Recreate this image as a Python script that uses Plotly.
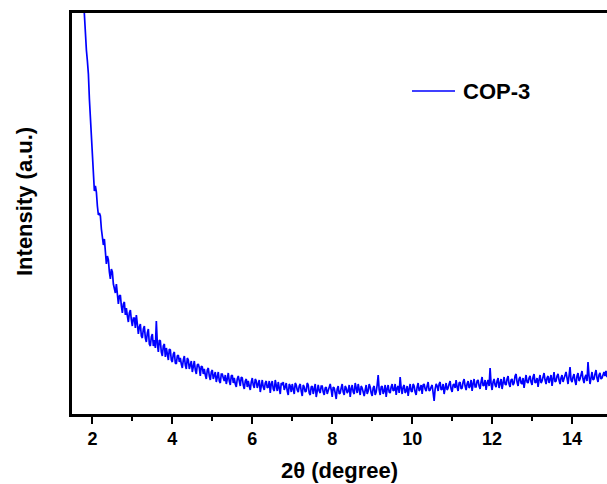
import plotly.graph_objects as go

# 2-theta scan: start angle and step (degree)
TWO_THETA_START = 1.75
TWO_THETA_STEP = 0.025

# intensity (arbitrary units)
INTENSITY = [
    4350, 4150, 3960, 3780, 3640, 3530, 3400, 3150, 2950, 2840, 2700, 2420, 2230, 2280, 2220, 2080, 1990, 2010, 1980, 1850,
    1760, 1690, 1750, 1620, 1500, 1580, 1540, 1420, 1350, 1450, 1420, 1300, 1230, 1210, 1300, 1180, 1100, 1180, 1190, 1080,
    1010, 1100, 1120, 990, 1060, 980, 920, 1010, 1040, 940, 880, 960, 960, 860, 990, 900, 800, 870, 900, 780,
    760, 850, 880, 760, 720, 810, 850, 700, 680, 770, 800, 680, 740, 660, 930, 700, 620, 740, 730, 620,
    580, 680, 700, 570, 660, 600, 540, 650, 640, 540, 520, 600, 620, 510, 500, 580, 590, 520, 560, 500,
    460, 540, 580, 490, 450, 560, 540, 450, 500, 530, 420, 480, 530, 440, 400, 490, 500, 460, 380, 480,
    470, 400, 450, 390, 350, 440, 460, 380, 340, 420, 440, 350, 390, 420, 320, 380, 420, 330, 310, 400,
    400, 360, 330, 390, 300, 350, 410, 330, 290, 380, 390, 310, 360, 300, 270, 350, 380, 330, 280, 370,
    360, 290, 250, 330, 350, 270, 330, 280, 240, 320, 360, 290, 260, 350, 330, 260, 290, 340, 220, 310,
    340, 270, 240, 310, 330, 260, 270, 330, 210, 300, 330, 250, 230, 340, 300, 230, 320, 260, 200, 310,
    290, 320, 240, 270, 310, 230, 190, 300, 280, 220, 300, 250, 200, 310, 290, 240, 220, 280, 300, 230,
    180, 290, 270, 220, 230, 310, 290, 210, 190, 270, 280, 200, 250, 300, 170, 260, 290, 230, 210, 280,
    280, 220, 190, 260, 270, 200, 230, 280, 300, 240, 170, 270, 260, 210, 150, 250, 280, 200, 210, 260,
    300, 220, 190, 280, 260, 210, 230, 290, 170, 250, 290, 220, 200, 310, 270, 210, 300, 240, 190, 280,
    260, 220, 180, 240, 290, 200, 230, 300, 270, 210, 180, 260, 280, 190, 220, 290, 390, 240, 190, 270,
    280, 200, 230, 290, 170, 250, 290, 220, 210, 270, 300, 230, 240, 300, 190, 260, 280, 210, 370, 260,
    200, 270, 290, 210, 230, 280, 180, 250, 300, 230, 220, 300, 280, 220, 190, 270, 310, 230, 250, 290,
    200, 290, 300, 250, 230, 280, 320, 230, 240, 270, 290, 210, 130, 250, 300, 280, 230, 300, 320, 240,
    250, 300, 200, 260, 310, 240, 260, 300, 330, 250, 220, 290, 300, 260, 340, 270, 230, 310, 320, 250,
    260, 320, 350, 280, 240, 300, 330, 260, 280, 340, 230, 300, 350, 270, 270, 330, 340, 280, 250, 320,
    370, 280, 290, 340, 240, 310, 340, 280, 460, 300, 240, 320, 350, 290, 270, 330, 360, 260, 300, 350,
    250, 330, 370, 300, 290, 350, 380, 300, 270, 340, 350, 290, 310, 380, 400, 320, 280, 350, 370, 310,
    300, 360, 260, 330, 390, 320, 310, 360, 380, 320, 290, 370, 400, 310, 320, 360, 270, 340, 390, 310,
    330, 370, 410, 340, 300, 360, 380, 310, 340, 390, 280, 350, 420, 320, 330, 380, 400, 340, 300, 360,
    390, 320, 350, 380, 420, 360, 300, 380, 470, 340, 320, 370, 400, 330, 290, 380, 410, 330, 350, 390,
    430, 350, 310, 370, 390, 330, 520, 380, 300, 360, 420, 340, 350, 400, 440, 360, 320, 390, 410, 350,
    360, 390, 420, 380, 430, 370, 410,
]
TWO_THETA = [round(TWO_THETA_START + TWO_THETA_STEP * i, 3) for i in range(len(INTENSITY))]

SERIES_NAME = "COP-3"
X_TITLE = "2θ (degree)"
Y_TITLE = "Intensity (a.u.)"

FONT = "Liberation Sans, Arial, sans-serif"
LINE_COLOR = "#0000ff"

# plot area in page pixels
PL, PR, PT, PB = 72, 607, 13, 414


def px(x):
    return (x - PL) / (PR - PL)


def py(y):
    return (PB - y) / (PB - PT)


fig = go.Figure()
fig.add_trace(go.Scatter(
    x=TWO_THETA, y=INTENSITY, mode="lines",
    line=dict(color=LINE_COLOR, width=1.7),
    name=SERIES_NAME, showlegend=False,
))

# legend drawn by hand: short line + label
fig.add_shape(type="line", xref="paper", yref="paper",
              x0=px(412), x1=px(455), y0=py(91), y1=py(91),
              line=dict(color=LINE_COLOR, width=1.7))
fig.add_annotation(text=SERIES_NAME, xref="paper", yref="paper",
                   x=px(461), y=py(91),
                   xanchor="left", yanchor="middle", showarrow=False,
                   font=dict(family=FONT, size=22, color="black", weight="bold"))

fig.add_annotation(text=Y_TITLE, xref="paper", yref="paper",
                   x=px(25), y=py(202), textangle=-90,
                   xanchor="center", yanchor="middle", showarrow=False,
                   font=dict(family=FONT, size=22, color="black", weight="bold"))
fig.add_annotation(text=X_TITLE, xref="paper", yref="paper",
                   x=px(339), y=py(470),
                   xanchor="center", yanchor="middle", showarrow=False,
                   font=dict(family=FONT, size=22, color="black", weight="bold"))

fig.update_layout(
    width=607, height=484,
    margin=dict(l=PL, r=607 - PR, t=PT, b=484 - PB),
    paper_bgcolor="white", plot_bgcolor="white",
    font=dict(family=FONT, color="black"),
    xaxis=dict(
        range=[1.49, 14.875], tick0=2, dtick=2,
        ticks="outside", ticklen=7, tickwidth=2, tickcolor="black",
        minor=dict(dtick=1, tick0=1, ticks="outside", ticklen=4, tickwidth=2, tickcolor="black"),
        showline=True, linecolor="black", linewidth=2.5, mirror=True,
        showgrid=False, zeroline=False,
        tickfont=dict(family=FONT, size=18, color="black", weight="bold"),
    ),
    yaxis=dict(
        range=[0, 4010], showticklabels=False, ticks="",
        showline=True, linecolor="black", linewidth=2.5, mirror=False,
        showgrid=False, zeroline=False,
    ),
)

# drop the default 8px page margin so the figure fills the window
fig.write_html("out.html", config={"displayModeBar": False},
               post_script="document.body.style.margin='0';")
